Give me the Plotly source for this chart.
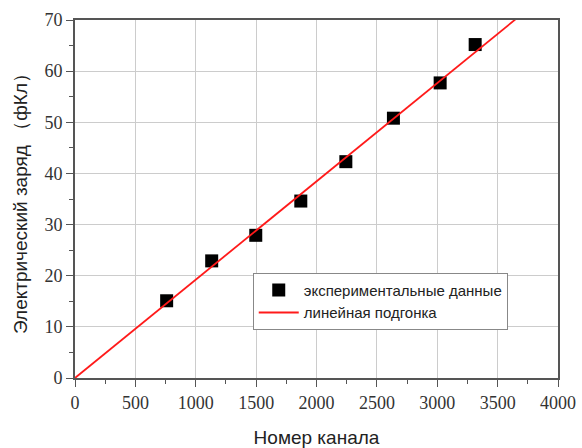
import plotly.graph_objects as go

# Measured charge versus channel number
channel = [759, 1132, 1497, 1870, 2243, 2637, 3024, 3314]
charge = [15.1, 22.9, 27.9, 34.6, 42.3, 50.8, 57.7, 65.2]

# Linear fit endpoints (through the origin)
fit_x = [0, 4000]
fit_y = [0, 76.9]

x_ticks = [0, 500, 1000, 1500, 2000, 2500, 3000, 3500, 4000]
y_ticks = [0, 10, 20, 30, 40, 50, 60, 70]

SERIF = "'Liberation Serif', 'Times New Roman', serif"
SANS = "'Liberation Sans', Arial, sans-serif"

fig = go.Figure()
fig.add_trace(go.Scatter(
    x=channel, y=charge, mode="markers",
    name="экспериментальные данные",
    marker=dict(symbol="square", size=13, color="black"),
))
fig.add_trace(go.Scatter(
    x=fit_x, y=fit_y, mode="lines",
    name="линейная подгонка",
    line=dict(color="#ff1a1a", width=1.8),
))

axis_common = dict(
    showline=True, mirror=True, linecolor="#555555", linewidth=2,
    showgrid=True, gridcolor="#cccccc", gridwidth=1,
    ticks="outside", ticklen=7, tickwidth=1.2, tickcolor="#555555",
    tickfont=dict(family=SERIF, size=18, color="#333333"),
    zeroline=False, automargin=False,
)

fig.update_xaxes(
    range=[0, 4000], tickvals=x_ticks, ticktext=[str(v) for v in x_ticks],
    minor=dict(ticks="outside", ticklen=4, tickcolor="#555555", dtick=250, showgrid=False),
    title=dict(text="Номер канала", font=dict(family=SANS, size=19, color="#222222"),
               standoff=30),
    **axis_common,
)
fig.update_yaxes(
    range=[0, 70], tickvals=y_ticks, ticktext=[str(v) for v in y_ticks],
    minor=dict(ticks="outside", ticklen=4, tickcolor="#555555", dtick=5, showgrid=False),
    title=dict(text="Электрический заряд （фКл）", font=dict(family=SANS, size=19, color="#222222"),
               standoff=12),
    **axis_common,
)

fig.update_layout(
    width=582, height=448,
    margin=dict(l=75, r=24, t=20, b=70),
    plot_bgcolor="white", paper_bgcolor="white",
    showlegend=True,
    legend=dict(
        x=0.368, y=0.294, xanchor="left", yanchor="top",
        bgcolor="white", bordercolor="#888888", borderwidth=1,
        font=dict(family=SANS, size=15, color="#222222"),
        itemwidth=40,
    ),
)

fig.write_html("out.html")
